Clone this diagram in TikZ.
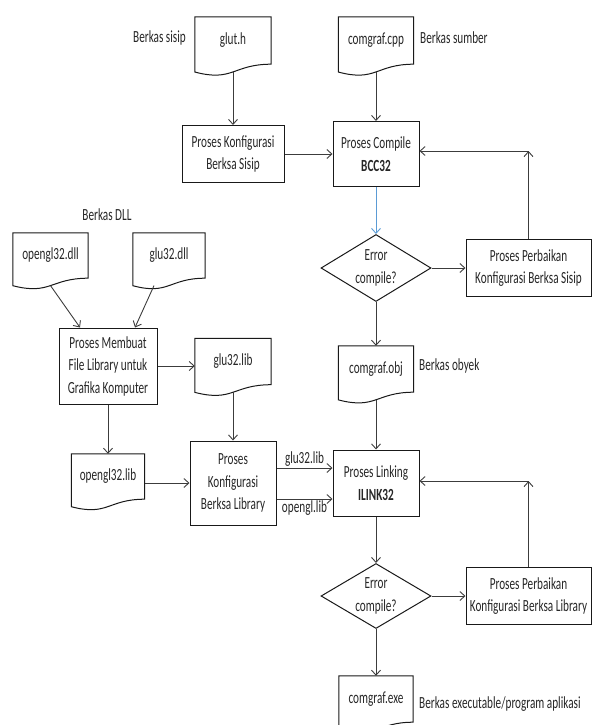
\documentclass[tikz,border=0pt]{standalone}
\usepackage{fontspec}
\setmainfont{Carlito}[FakeStretch=0.66]
\usetikzlibrary{arrows.meta,shapes.geometric,calc}
\definecolor{ln}{RGB}{60,60,60}
\definecolor{blueln}{RGB}{91,155,213}
\tikzset{
  x=1pt, y=1pt,
  base/.style={font=\fontsize{17}{22.5}\selectfont, align=center, text=black!85, inner sep=0pt},
  box/.style={base, draw=black!90, line width=1pt, rectangle, minimum width=#1},
  dia/.style={base, draw=black!90, line width=1pt, diamond, aspect=1.62, minimum width=110pt, minimum height=67pt},
  docn/.style={base, rectangle, minimum width=#1},
  docline/.style={draw=black!90, line width=1pt},
  lbl/.style={base},
  arr/.style={draw=ln, line width=0.9pt, -{Straight Barb[length=5pt,width=9pt]}},
}
\newcommand\docpath[1]{%
  \draw[docline] (#1.south east) -- (#1.north east) -- (#1.north west)
    -- ($(#1.north west)!1.165!(#1.south west)$)
    .. controls ($(#1.north)!1.380!(#1.south)$) and (#1.south) .. (#1.south east) -- cycle;
  \coordinate (#1-b) at ($(#1.north)!1.163!(#1.south)$);}
\begin{document}
\begin{tikzpicture}
\useasboundingbox (0,0) rectangle (592,-725);
% documents
\node[docn=76pt, minimum height=47pt] (glut) at (233,-40.5) {glut.h};
\node[docn=75pt, minimum height=47pt] (cpp) at (376,-40.5) {comgraf.cpp};
\node[docn=75pt, minimum height=45pt] (odll) at (50.5,-255.5) {opengl32.dll};
\node[docn=72pt, minimum height=45pt] (gdll) at (169,-255.5) {glu32.dll};
\node[docn=76pt, minimum height=46pt] (glib) at (233,-361.5) {glu32.lib};
\node[docn=73pt, minimum height=45pt] (olib) at (108,-476.5) {opengl32.lib};
\node[docn=75pt, minimum height=46pt] (obj) at (376,-369) {comgraf.obj};
\node[docn=74pt, minimum height=46pt] (exe) at (376,-699) {comgraf.exe};
\docpath{glut}\docpath{cpp}\docpath{odll}\docpath{gdll}
\docpath{glib}\docpath{olib}\docpath{obj}\docpath{exe}
% process boxes
\node[box=102pt, minimum height=57pt] (sisip) at (233,-154) {Proses Konfigurasi\\Berksa Sisip};
\node[box=86pt, minimum height=65pt] (compile) at (376,-154) {Proses Compile\\\textbf{BCC32}};
\node[box=125pt, minimum height=57pt] (perb1) at (528.5,-268) {Proses Perbaikan\\Konfigurasi Berksa Sisip};
\node[box=98pt, minimum height=76pt] (mk) at (108,-366) {Proses Membuat\\File Library untuk\\Grafika Komputer};
\node[box=86pt, minimum height=84pt] (konlib) at (233,-483) {Proses\\Konfigurasi\\Berksa Library};
\node[box=86pt, minimum height=66pt] (link) at (376,-483) {Proses Linking\\\textbf{ILINK32}};
\node[box=125pt, minimum height=57pt] (perb2) at (528.5,-596) {Proses Perbaikan\\Konfigurasi Berksa Library};
% decisions
\node[dia] (d1) at (376,-268) {Error\\compile?};
\node[dia, minimum height=65pt] (d2) at (376,-596) {Error\\compile?};
% labels
\node[lbl, anchor=east] (lsisip) at (186,-38) {Berkas sisip};
\node[lbl, anchor=west] (lsumber) at (420,-38) {Berkas sumber};
\node[lbl] (ldll) at (107,-215) {Berkas DLL};
\node[lbl, anchor=west] (lobj) at (419,-366) {Berkas obyek};
\node[lbl, anchor=west] (lexe) at (419,-704) {Berkas executable/program aplikasi};
% connectors
\draw[arr] (glut-b) -- (glut-b |- sisip.north);
\draw[arr] (cpp-b) -- (cpp-b |- compile.north);
\draw[arr] (sisip) -- (compile);
\draw[arr, draw=blueln] (compile) -- (d1);
\draw[arr] (d1) -- (perb1);
\coordinate (c1) at (528.5,-151);
\draw[arr] (perb1.north) -- (c1);
\draw[arr] (c1) -- (c1 -| compile.east);
\draw[arr] (d1) -- (obj.north);
\draw[arr] (obj-b) -- (obj-b |- link.north);
\draw[arr] (link) -- (d2);
\draw[arr] (d2) -- (perb2);
\coordinate (c2) at (528.5,-481);
\draw[arr] (perb2.north) -- (c2);
\draw[arr] (c2) -- (c2 -| link.east);
\draw[arr] (d2) -- (exe.north);
\draw[arr] (odll-b) -- ($(mk.north)+(-28,0)$);
\draw[arr] ($(gdll-b)+(-15,0)$) -- ($(mk.north)+(27,0)$);
\draw[arr] (mk.east) -- (mk.east -| glib.west);
\draw[arr] (mk) -- (olib.north);
\draw[arr] (olib.east |- konlib.west) -- (konlib.west);
\draw[arr] (glib-b) -- (konlib.north);
\draw[arr] ($(konlib.east)+(0,15)$) -- node[lbl, above=1pt] {glu32.lib} ($(link.west)+(0,15)$);
\draw[arr] ($(konlib.east)+(0,-16)$) -- node[lbl, below=1pt] {opengl.lib} ($(link.west)+(0,-16)$);
\end{tikzpicture}
\end{document}
